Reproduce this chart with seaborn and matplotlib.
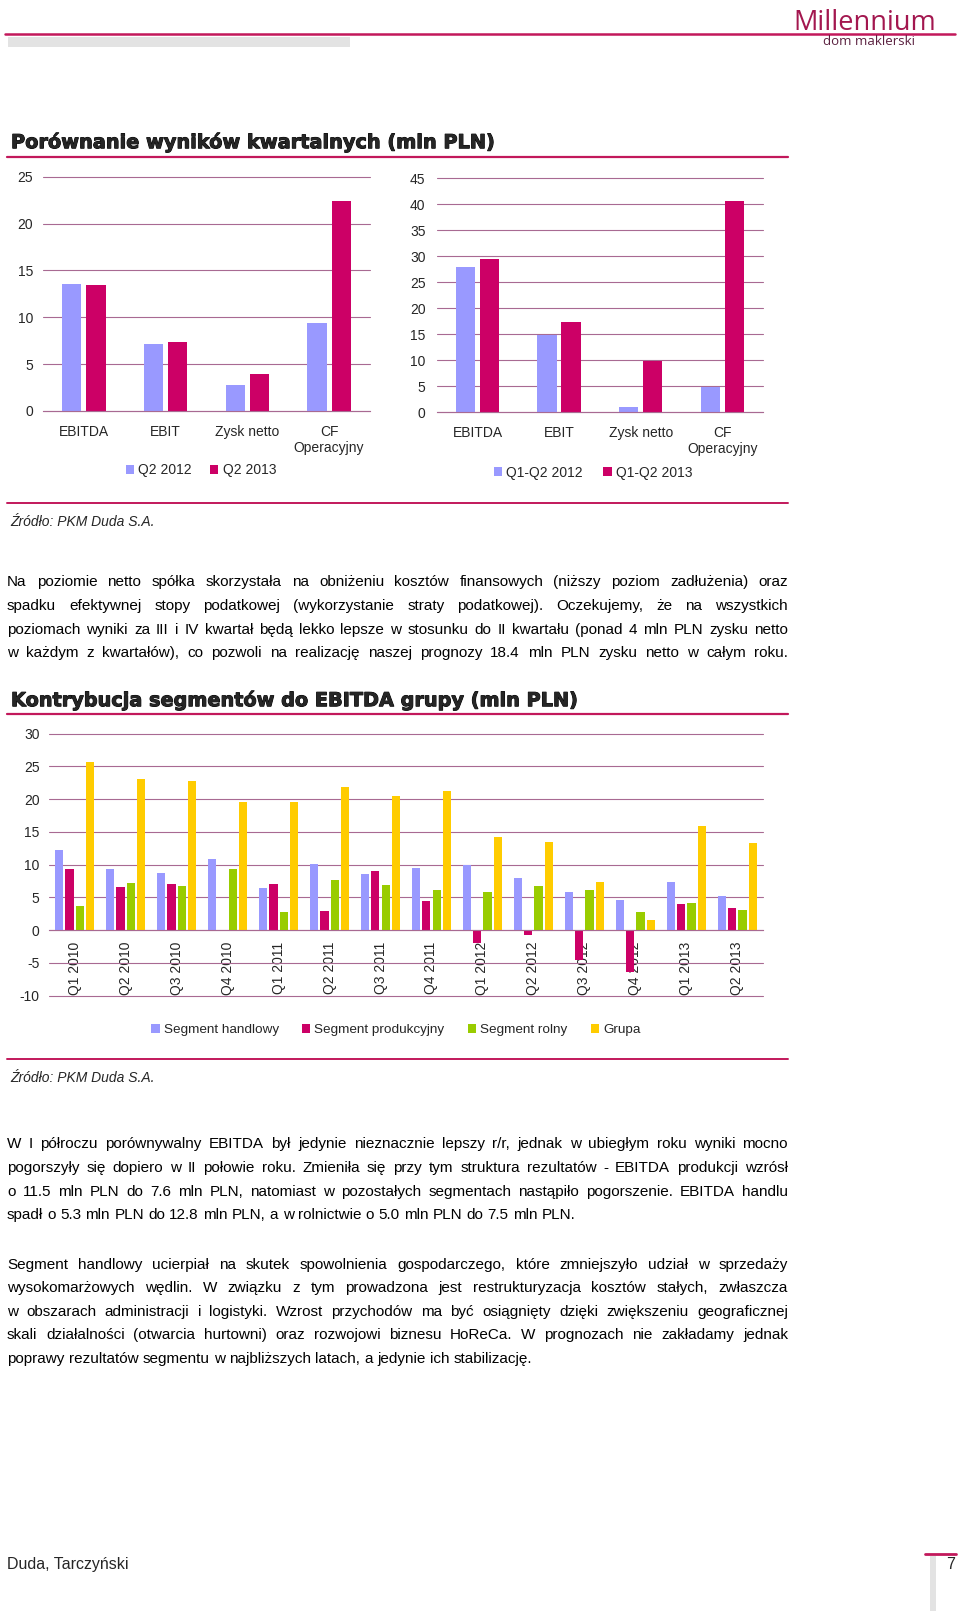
import numpy as np
import pandas as pd
import matplotlib
matplotlib.use('Agg')
import matplotlib.pyplot as plt
import matplotlib.patheffects as pe
import seaborn as sns
from matplotlib.lines import Line2D
from matplotlib.patches import Rectangle
from matplotlib import font_manager

# --- dane ---
kategorie = ['EBITDA', 'EBIT', 'Zysk netto', 'CF\nOperacyjny']
q2_2012 = [13.6, 7.1, 2.8, 9.4]
q2_2013 = [13.4, 7.4, 3.9, 22.4]
h1_2012 = [27.9, 14.8, 1.0, 4.8]
h1_2013 = [29.5, 17.4, 9.9, 40.7]

kwartaly = ['Q1 2010', 'Q2 2010', 'Q3 2010', 'Q4 2010', 'Q1 2011', 'Q2 2011', 'Q3 2011',
            'Q4 2011', 'Q1 2012', 'Q2 2012', 'Q3 2012', 'Q4 2012', 'Q1 2013', 'Q2 2013']
seg_handlowy = [12.3, 9.3, 8.8, 10.9, 6.4, 10.1, 8.6, 9.5, 9.9, 8.0, 5.8, 4.6, 7.4, 5.2]
seg_produkcyjny = [9.3, 6.6, 7.0, -0.1, 7.1, 2.9, 9.1, 4.4, -2.0, -0.7, -4.6, -6.4, 4.0, 3.4]
seg_rolny = [3.7, 7.2, 6.7, 9.3, 2.8, 7.7, 6.9, 6.1, 5.9, 6.7, 6.1, 2.8, 4.2, 3.1]
grupa = [25.7, 23.1, 22.8, 19.6, 19.6, 21.8, 20.5, 21.3, 14.3, 13.5, 7.4, 1.6, 15.9, 13.3]

akapit1 = [
    "Na poziomie netto spółka skorzystała na obniżeniu kosztów finansowych (niższy poziom zadłużenia) oraz",
    "spadku efektywnej stopy podatkowej (wykorzystanie straty podatkowej). Oczekujemy, że na wszystkich",
    "poziomach wyniki za III i IV kwartał będą lekko lepsze w stosunku do II kwartału (ponad 4 mln PLN zysku netto",
    "w każdym z kwartałów), co pozwoli na realizację naszej prognozy 18.4 mln PLN zysku netto w całym roku.",
]
akapit2 = [
    "W I półroczu porównywalny EBITDA był jedynie nieznacznie lepszy r/r, jednak w ubiegłym roku wyniki mocno",
    "pogorszyły się dopiero w II połowie roku. Zmieniła się przy tym struktura rezultatów - EBITDA produkcji wzrósł",
    "o 11.5 mln PLN do 7.6 mln PLN, natomiast w pozostałych segmentach nastąpiło pogorszenie. EBITDA handlu",
    "spadł o 5.3 mln PLN do 12.8 mln PLN, a w rolnictwie o 5.0 mln PLN do 7.5 mln PLN.",
]
akapit3 = [
    "Segment handlowy ucierpiał na skutek spowolnienia gospodarczego, które zmniejszyło udział w sprzedaży",
    "wysokomarżowych wędlin. W związku z tym prowadzona jest restrukturyzacja kosztów stałych, zwłaszcza",
    "w obszarach administracji i logistyki. Wzrost przychodów ma być osiągnięty dzięki zwiększeniu geograficznej",
    "skali działalności (otwarcia hurtowni) oraz rozwojowi biznesu HoReCa. W prognozach nie zakładamy jednak",
    "poprawy rezultatów segmentu w najbliższych latach, a jedynie ich stabilizację.",
]

FIOLET = '#9999FF'
MAGENTA = '#CC0066'
ZIELONY = '#99CC00'
ZOLTY = '#FFCC00'
SIATKA = '#a86a92'
LINIA = '#c2185b'

sns.set_theme(style='white')
plt.rcParams['font.family'] = ['Liberation Sans', 'DejaVu Sans']
plt.rcParams['axes.unicode_minus'] = False

nazwy_fontow = {f.name for f in font_manager.fontManager.ttflist}
WASKI = 'Liberation Sans Narrow' if 'Liberation Sans Narrow' in nazwy_fontow else 'Liberation Sans'
FS_TEKST = 11.8 if WASKI != 'Liberation Sans' else 11.0
RODZINA = [WASKI, 'DejaVu Sans']

W, H = 960, 1611
fig = plt.figure(figsize=(W / 100, H / 100), dpi=100)
fig.patch.set_facecolor('white')

# warstwa w pikselach strony
page = fig.add_axes([0, 0, 1, 1])
page.set_xlim(0, W)
page.set_ylim(H, 0)
page.axis('off')
rend = fig.canvas.get_renderer()


def ax_px(x0, y0, x1, y1):
    return fig.add_axes([x0 / W, 1 - y1 / H, (x1 - x0) / W, (y1 - y0) / H])


def hline(x0, x1, y, color=LINIA, lw=1.6):
    page.add_line(Line2D([x0, x1], [y, y], color=color, lw=lw))


def fit(t, width):
    w = t.get_window_extent(rend).width
    t.set_fontsize(t.get_fontsize() * width / w)


def szer(s, fs):
    t = page.text(0, 0, s, fontsize=fs, family=RODZINA)
    w = t.get_window_extent(rend).width
    t.remove()
    return w


def akapit(linie, y_pierwsza, dy, x0, x1, fs, last_left=True):
    # dopasuj rozmiar, aby najdluzsza linia sie zmiescila
    maxw = max(szer(l, fs) for l in linie)
    if maxw > (x1 - x0) * 0.985:
        fs = fs * (x1 - x0) * 0.985 / maxw
    sp = szer('a a', fs) - szer('aa', fs)
    for i, l in enumerate(linie):
        y = round(y_pierwsza + i * dy) + 0.2   # cala linia bazowa -> brak skakania slow
        slowa = l.split(' ')
        ws = [szer(w, fs) for w in slowa]
        if last_left and i == len(linie) - 1:
            gap = sp
        else:
            gap = (x1 - x0 - sum(ws)) / (len(slowa) - 1)
        x = x0
        for s, w in zip(slowa, ws):
            page.text(x, y, s, fontsize=fs, va='baseline', ha='left', color='black',
                      family=RODZINA)
            x += w + gap


# --- naglowek ---
hline(5, 955, 34, lw=1.8)
page.add_patch(Rectangle((8, 37), 342, 10, color='#e3e3e3', lw=0))
t = page.text(793, 29.5, 'Millennium', fontsize=22, color='#a3174f', va='baseline',
              family=['Open Sans', 'DejaVu Sans'])
fit(t, 142)
t = page.text(823, 45, 'dom maklerski', fontsize=9, color='#5b2140', va='baseline',
              family=['Open Sans', 'DejaVu Sans'])
fit(t, 92)

gruby = [pe.withStroke(linewidth=0.7, foreground='black')]

# --- tytul 1 ---
t = page.text(11, 148.2, 'Porównanie wyników kwartalnych (mln PLN)', fontsize=13.4,
              fontweight='bold', va='baseline', family=['DejaVu Sans'], path_effects=gruby)
fit(t, 486)
hline(7, 788, 157)


def styl_osi(ax, ymax, krok, ymin=0):
    ax.set_ylim(ymin, ymax)
    ax.set_yticks(np.arange(ymin, ymax + 0.1, krok))
    ax.yaxis.grid(True, color=SIATKA, lw=0.8)
    for g in ax.get_ygridlines():
        g.set_clip_on(False)
    ax.set_axisbelow(True)
    for s in ['top', 'right', 'left']:
        ax.spines[s].set_visible(False)
    ax.spines['bottom'].set_color(SIATKA)
    ax.spines['bottom'].set_linewidth(0.8)
    ax.set_xlabel('')
    ax.set_ylabel('')
    ax.set_facecolor('none')


def wykres_porownania(ax, a, b, nazwy, ymax, krok, ypad, leg_xy, colsp):
    df = pd.DataFrame({'kat': kategorie * 2, 'val': a + b,
                       'okres': [nazwy[0]] * 4 + [nazwy[1]] * 4})
    sns.barplot(data=df, x='kat', y='val', hue='okres', palette=[FIOLET, MAGENTA],
                width=0.59, gap=0.2, saturation=1, linewidth=0, ax=ax)
    styl_osi(ax, ymax, krok)
    ax.tick_params(axis='x', length=0, pad=10, labelsize=10)
    ax.tick_params(axis='y', length=0, pad=ypad, labelsize=10)
    sns.move_legend(ax, 'center', bbox_to_anchor=leg_xy, bbox_transform=fig.transFigure,
                    ncol=2, frameon=False, title=None, fontsize=10, handlelength=0.6,
                    handleheight=0.6, handletextpad=0.3, columnspacing=colsp)


ax1 = ax_px(43, 176.7, 370, 411)
wykres_porownania(ax1, q2_2012, q2_2013, ['Q2 2012', 'Q2 2013'], 25, 5, 7,
                  (201 / W, 1 - 470 / H), 1.3)
ax2 = ax_px(436.7, 178.3, 763, 412.3)
wykres_porownania(ax2, h1_2012, h1_2013, ['Q1-Q2 2012', 'Q1-Q2 2013'], 45, 5, 8,
                  (593 / W, 1 - 472.7 / H), 1.5)

hline(7, 788, 502.6, lw=1.4)
page.text(10, 526.2, 'Źródło: PKM Duda S.A.', fontsize=10, style='italic', va='baseline',
          family=RODZINA)

akapit(akapit1, 586.5, 23.6, 7, 788, FS_TEKST, last_left=False)

# --- tytul 2 ---
t = page.text(11, 706.2, 'Kontrybucja segmentów do EBITDA grupy (mln PLN)', fontsize=13.4,
              fontweight='bold', va='baseline', family=['DejaVu Sans'], path_effects=gruby)
fit(t, 569)
hline(7, 788, 714)

ax3 = ax_px(49.3, 733.7, 762.7, 995.7)
serie = ['Segment handlowy', 'Segment produkcyjny', 'Segment rolny', 'Grupa']
df3 = pd.DataFrame({
    'kw': kwartaly * 4,
    'val': seg_handlowy + seg_produkcyjny + seg_rolny + grupa,
    'seria': [s for s in serie for _ in kwartaly],
})
sns.barplot(data=df3, x='kw', y='val', hue='seria', palette=[FIOLET, MAGENTA, ZIELONY, ZOLTY],
            width=0.81, gap=0.2, saturation=1, linewidth=0, ax=ax3)
styl_osi(ax3, 30, 5, ymin=-10)
ax3.spines['bottom'].set_position(('data', 0))
ax3.tick_params(axis='x', length=0, pad=8.2, labelsize=10, labelrotation=90)
ax3.tick_params(axis='y', length=0, pad=7, labelsize=10)
sns.move_legend(ax3, 'center', bbox_to_anchor=(396 / W, 1 - 1030 / H), bbox_transform=fig.transFigure,
                ncol=4, frameon=False, title=None, fontsize=9.7, handlelength=0.6,
                handleheight=0.6, handletextpad=0.3, columnspacing=1.75)

hline(7, 788, 1058.6, lw=1.4)
page.text(10, 1082.2, 'Źródło: PKM Duda S.A.', fontsize=10, style='italic', va='baseline',
          family=RODZINA)

akapit(akapit2, 1148.4, 23.6, 7, 788, FS_TEKST)
akapit(akapit3, 1268.6, 23.6, 7, 788, FS_TEKST)

# --- stopka ---
page.text(7, 1569.2, 'Duda, Tarczyński', fontsize=11.5, va='baseline', family=RODZINA)
page.text(951, 1569.2, '7', fontsize=11.5, va='baseline', ha='center', family=RODZINA)
hline(925, 956, 1554, lw=2)
page.add_patch(Rectangle((930, 1556), 6, 55, color='#e3e3e3', lw=0))

fig.savefig('out.png', dpi=100)
